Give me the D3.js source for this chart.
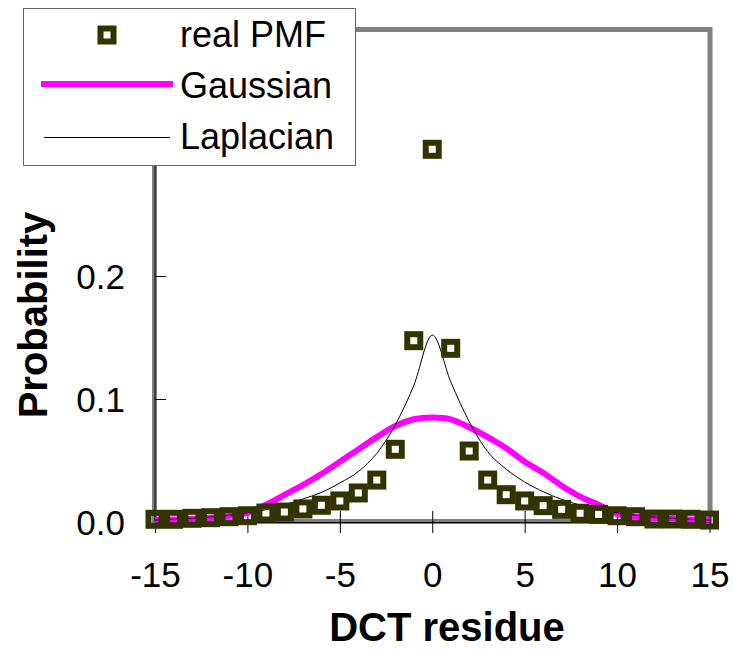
<!DOCTYPE html>
<html>
<head>
<meta charset="utf-8">
<script src="https://cdn.jsdelivr.net/npm/d3@7"></script>
<style>
  html, body { margin: 0; padding: 0; background: #ffffff; }
  svg { display: block; font-family: "Liberation Sans", Arial, sans-serif; }
</style>
</head>
<body>
<svg id="chart" width="733" height="650"></svg>
<script>
// DCT residue values on the horizontal axis
const residues = [-15, -14, -13, -12, -11, -10, -9, -8, -7, -6, -5, -4, -3, -2, -1,
                  0, 1, 2, 3, 4, 5, 6, 7, 8, 9, 10, 11, 12, 13, 14, 15];

// Measured probability mass function
const realPMF = [0.0022, 0.0022, 0.0030, 0.0035, 0.0043, 0.0051, 0.0073, 0.0081, 0.0106, 0.0136,
                 0.0171, 0.0236, 0.0341, 0.0591, 0.1474, 0.3030, 0.1412, 0.0577, 0.0341, 0.0222,
                 0.0171, 0.0133, 0.0103, 0.0071, 0.0062, 0.0051, 0.0043, 0.0024, 0.0024, 0.0022,
                 0.0016];

// Gaussian model fitted to the residues
const gaussian = [0.0018, 0.0020, 0.0027, 0.0035, 0.0050, 0.0075, 0.0140, 0.0220, 0.0300, 0.0390,
                  0.0490, 0.0590, 0.0690, 0.0780, 0.0835, 0.0850, 0.0835, 0.0770, 0.0690, 0.0600,
                  0.0490, 0.0400, 0.0295, 0.0206, 0.0140, 0.0065, 0.0045, 0.0033, 0.0027, 0.0020,
                  0.0018];

// Laplacian model fitted to the residues
const laplacian = [0.0016, 0.0022, 0.0030, 0.0040, 0.0055, 0.0075, 0.0100, 0.0140, 0.0187, 0.0240,
                   0.0317, 0.0410, 0.0558, 0.0789, 0.1110, 0.1520, 0.1140, 0.0816, 0.0572, 0.0430,
                   0.0325, 0.0247, 0.0184, 0.0138, 0.0100, 0.0075, 0.0055, 0.0040, 0.0030, 0.0022,
                   0.0016];

const xTicks = [-15, -10, -5, 0, 5, 10, 15];
const yTicks = [0, 0.1, 0.2];
const yDomain = [0, 0.4];
const legendLabels = ["real PMF", "Gaussian", "Laplacian"];

// ---- layout ----
const plot = { left: 155, right: 709.5, top: 30, bottom: 522 };
const colors = { marker: "#333300", gauss: "#ff00ff", laplace: "#000000", frame: "#808080" };

const svg = d3.select("#chart");

const x = d3.scaleLinear().domain([residues[0], residues[residues.length - 1]])
  .range([plot.left, plot.right]);
const y = d3.scaleLinear().domain(yDomain).range([plot.bottom, plot.top]);

// plot-area frame
svg.append("rect")
  .attr("x", x(-15) - 0.5).attr("y", y(yDomain[1]) - 0.5)
  .attr("width", x(15) - x(-15) + 1).attr("height", y(0) - y(yDomain[1]))
  .attr("fill", "none").attr("stroke", colors.frame).attr("stroke-width", 5);

// x axis: crossing ticks
const xAxis = svg.append("g")
  .attr("transform", `translate(0,${y(0)})`)
  .call(d3.axisBottom(x).tickValues(xTicks).tickFormat(d => String(d)).tickSizeOuter(0));
xAxis.select(".domain").attr("stroke", "#000").attr("stroke-width", 1);
xAxis.selectAll(".tick line").attr("y1", -11).attr("y2", 11).attr("stroke", "#000");
xAxis.selectAll(".tick text")
  .attr("y", 65).attr("dy", null)
  .attr("font-size", 35).attr("font-family", "Liberation Sans, Arial, sans-serif")
  .attr("fill", "#000");

// y axis: inside ticks
const yAxis = svg.append("g")
  .attr("transform", `translate(${x(-15)},0)`)
  .call(d3.axisLeft(y).tickValues(yTicks).tickFormat(d3.format(".1f")).tickSizeOuter(0));
yAxis.select(".domain").attr("stroke", "#000").attr("stroke-width", 1)
  .attr("d", `M0,${y(0)}V${y(yDomain[1])}`);
yAxis.selectAll(".tick line").attr("x1", 0).attr("x2", 11).attr("stroke", "#000");
yAxis.selectAll(".tick text")
  .attr("x", -30).attr("dy", "0.36em")
  .attr("font-size", 35).attr("font-family", "Liberation Sans, Arial, sans-serif")
  .attr("fill", "#000");

const points = residues.map((r, i) => ({ r, pmf: realPMF[i], g: gaussian[i], l: laplacian[i] }));

// model curves (smoothed)
const curve = d3.curveCardinal.tension(0);
svg.append("path")
  .datum(points)
  .attr("fill", "none").attr("stroke", colors.gauss).attr("stroke-width", 6)
  .attr("d", d3.line().x(d => x(d.r)).y(d => y(d.g)).curve(curve));
svg.append("path")
  .datum(points)
  .attr("fill", "none").attr("stroke", colors.laplace).attr("stroke-width", 1)
  .attr("d", d3.line().x(d => x(d.r)).y(d => y(d.l)).curve(curve));

// hollow square markers for the measured PMF
const mSide = 13, mStroke = 6;
svg.append("g").selectAll("rect")
  .data(points)
  .join("rect")
  .attr("x", d => x(d.r) - mSide / 2).attr("y", d => y(d.pmf) - mSide / 2)
  .attr("width", mSide).attr("height", mSide)
  .attr("fill", "none").attr("stroke", colors.marker).attr("stroke-width", mStroke);

// axis titles
svg.append("text")
  .attr("transform", "translate(47,315) rotate(-90)")
  .attr("text-anchor", "middle").attr("font-weight", "bold").attr("font-size", 40)
  .text("Probability");
svg.append("text")
  .attr("x", 447).attr("y", 641)
  .attr("text-anchor", "middle").attr("font-weight", "bold").attr("font-size", 40)
  .text("DCT residue");

// legend
const legend = svg.append("g");
legend.append("rect")
  .attr("x", 23.5).attr("y", 8.5).attr("width", 332).attr("height", 157)
  .attr("fill", "#fff").attr("stroke", "#666").attr("stroke-width", 1);
const rowY = [35, 84, 137];
const baseY = [47, 98, 149];
legend.append("rect")
  .attr("x", 107 - mSide / 2).attr("y", rowY[0] - mSide / 2)
  .attr("width", mSide).attr("height", mSide)
  .attr("fill", "none").attr("stroke", colors.marker).attr("stroke-width", mStroke);
legend.append("line")
  .attr("x1", 41).attr("x2", 173).attr("y1", rowY[1]).attr("y2", rowY[1])
  .attr("stroke", colors.gauss).attr("stroke-width", 6);
legend.append("line")
  .attr("x1", 44).attr("x2", 170).attr("y1", rowY[2] + 0.5).attr("y2", rowY[2] + 0.5)
  .attr("stroke", colors.laplace).attr("stroke-width", 1);
legend.selectAll("text.lbl")
  .data(legendLabels)
  .join("text")
  .attr("class", "lbl")
  .attr("x", 180).attr("y", (d, i) => baseY[i])
  .attr("font-size", 36)
  .text(d => d);
</script>
</body>
</html>
